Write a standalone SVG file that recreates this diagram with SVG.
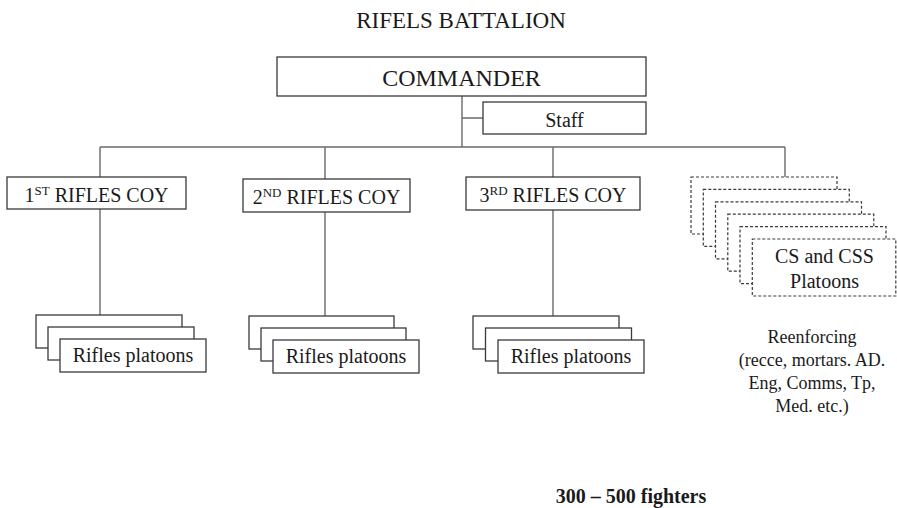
<svg xmlns="http://www.w3.org/2000/svg" width="897" height="508" viewBox="0 0 897 508">
<style>
text{font-family:'Liberation Serif','Tinos','Times New Roman','DejaVu Serif','Noto Serif',serif;fill:#1a1a1a;text-anchor:middle}
.box{fill:#fff;stroke:#3a3a3a;stroke-width:1.3}
.dbox{fill:#fff;stroke:#3a3a3a;stroke-width:1.2;stroke-dasharray:3 2}
.conn{fill:none;stroke:#6a6a6a;stroke-width:1.4}
.t20{font-size:20px}
.t18{font-size:18px}
</style>
<rect width="897" height="508" fill="#fff"/>
<text x="461" y="28" font-size="23">RIFELS BATTALION</text>
<g id="connectors">
<path class="conn" d="M462 96V147M462 118H483M100 147H785M100 147V177M325 147V179M553 147V177M785 147V177M100 209V315M325 212V316M553 210V316"/>
</g>
<g id="commander">
<rect class="box" x="277" y="57" width="369" height="39"/>
<text x="461.5" y="86" font-size="24">COMMANDER</text>
</g>
<g id="staff">
<rect class="box" x="483" y="102" width="163" height="32"/>
<text x="564.5" y="127" class="t20">Staff</text>
</g>
<g id="coy1">
<rect class="box" x="7" y="177" width="179" height="32"/>
<text x="96.5" y="202" class="t20">1<tspan font-size="13" dy="-7">ST</tspan><tspan dy="7"> RIFLES COY</tspan></text>
</g>
<g id="coy2">
<rect class="box" x="243" y="179" width="167" height="33"/>
<text x="326.5" y="204" class="t20">2<tspan font-size="13" dy="-7">ND</tspan><tspan dy="7"> RIFLES COY</tspan></text>
</g>
<g id="coy3">
<rect class="box" x="466" y="177" width="174" height="33"/>
<text x="553" y="202" class="t20">3<tspan font-size="13" dy="-7">RD</tspan><tspan dy="7"> RIFLES COY</tspan></text>
</g>
<g id="platoons1">
<rect class="box" x="36" y="315" width="146" height="33"/>
<rect class="box" x="48" y="327" width="146" height="33"/>
<rect class="box" x="60" y="339" width="146" height="33"/>
<text x="133" y="362" class="t20">Rifles platoons</text>
</g>
<g id="platoons2">
<rect class="box" x="249" y="316" width="145" height="33"/>
<rect class="box" x="261" y="328" width="145" height="33"/>
<rect class="box" x="273" y="340" width="146" height="33"/>
<text x="346" y="363" class="t20">Rifles platoons</text>
</g>
<g id="platoons3">
<rect class="box" x="473" y="316" width="146" height="33"/>
<rect class="box" x="485.5" y="328" width="146" height="33"/>
<rect class="box" x="498" y="340" width="146" height="33"/>
<text x="571" y="363" class="t20">Rifles platoons</text>
</g>
<g id="cs-css">
<rect class="dbox" x="691" y="177" width="146" height="57"/>
<rect class="dbox" x="703.3" y="189.4" width="146" height="57"/>
<rect class="dbox" x="715.5" y="201.8" width="146" height="57"/>
<rect class="dbox" x="727.8" y="214.2" width="146" height="57"/>
<rect class="dbox" x="740" y="226.6" width="146" height="57"/>
<rect class="dbox" x="752.3" y="239" width="143.5" height="57"/>
<text x="824.5" y="263" class="t20">CS and CSS</text>
<text x="824.5" y="288" class="t20">Platoons</text>
</g>
<g id="reenforcing">
<text x="812" y="343" class="t18">Reenforcing</text>
<text x="812" y="366" class="t18">(recce, mortars. AD.</text>
<text x="812" y="389" class="t18">Eng, Comms, Tp,</text>
<text x="812" y="412" class="t18">Med. etc.)</text>
</g>
<text x="631" y="503" class="t20" font-weight="bold">300 – 500 fighters</text>
</svg>
